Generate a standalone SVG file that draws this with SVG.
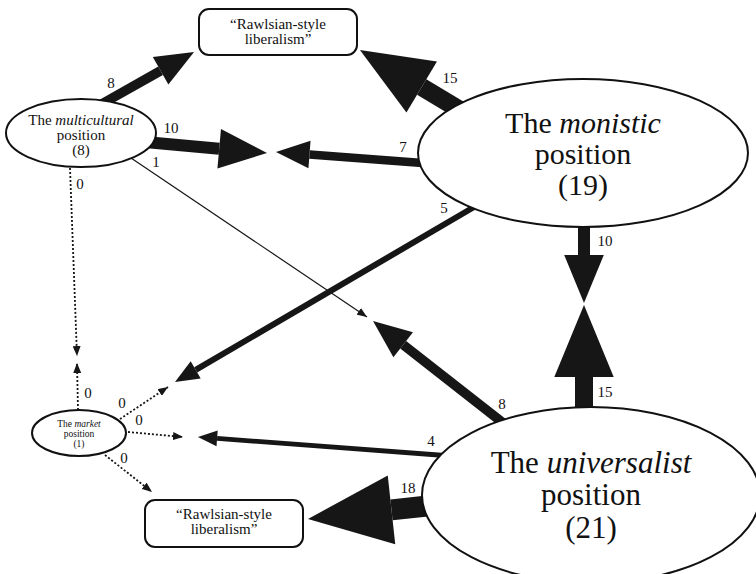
<svg xmlns="http://www.w3.org/2000/svg" width="756" height="574" viewBox="0 0 756 574">
<style>
text{fill:#111;text-anchor:middle}
.lbl{font-size:15px}
.node{fill:#fff;stroke:#111;stroke-width:2}
.flow{fill:none;stroke:#161616;marker-end:url(#head)}
.thin{fill:none;stroke:#161616;stroke-width:1.2;marker-end:url(#small)}
.dot{fill:none;stroke:#161616;stroke-width:1.8;stroke-dasharray:2 2;marker-end:url(#small)}
</style>
<defs>
<marker id="head" markerUnits="strokeWidth" markerWidth="4" markerHeight="3.3" viewBox="0 0 4 3.3" refX="0" refY="1.65" orient="auto" overflow="visible">
<path d="M0,0 L4,1.65 L0,3.3 Z" fill="#161616"/>
</marker>
<marker id="small" markerUnits="userSpaceOnUse" markerWidth="10" markerHeight="8" viewBox="0 0 10 8" refX="10" refY="4" orient="auto">
<path d="M0,0 L10,4 L0,8 Z" fill="#161616"/>
</marker>
</defs>
<rect width="756" height="574" fill="#fff"/>
<g id="connectors" font-family="Times New Roman, Liberation Serif, serif">
<path class="flow" d="M99.7,105.1 L160.6,70.8" stroke-width="9.6"/>
<path class="flow" d="M464.6,112.7 L421.7,87" stroke-width="18"/>
<path class="flow" d="M139.5,141.5 L219.2,148.7" stroke-width="12"/>
<path class="flow" d="M439.1,164.3 L309.5,154.5" stroke-width="8.4"/>
<path class="thin" d="M131,158 L367,317"/>
<path class="flow" d="M480,203.5 L195.7,369.9" stroke-width="6"/>
<path class="flow" d="M513.4,431.1 L403.2,344.7" stroke-width="9.6"/>
<path class="flow" d="M584,430 L584,377" stroke-width="18"/>
<path class="flow" d="M584,215 L584,255" stroke-width="12"/>
<path class="flow" d="M445,455.5 L217.1,438.4" stroke-width="4.8"/>
<path class="flow" d="M441.2,504.5 L391.5,509.9" stroke-width="21"/>
<path class="dot" d="M70,168 L77,356"/>
<path class="dot" d="M78,410 L77,363"/>
<path class="dot" d="M120,419 L168,387"/>
<path class="dot" d="M128,432 L183,437"/>
<path class="dot" d="M105,455 L152,492"/>
<text class="lbl" font-family="Times New Roman, Liberation Serif, serif" x="111" y="88">8</text>
<text class="lbl" font-family="Times New Roman, Liberation Serif, serif" x="450" y="83">15</text>
<text class="lbl" font-family="Times New Roman, Liberation Serif, serif" x="171" y="133">10</text>
<text class="lbl" font-family="Times New Roman, Liberation Serif, serif" x="403" y="152">7</text>
<text class="lbl" font-family="Times New Roman, Liberation Serif, serif" x="156" y="167">1</text>
<text class="lbl" font-family="Times New Roman, Liberation Serif, serif" x="444" y="213">5</text>
<text class="lbl" font-family="Times New Roman, Liberation Serif, serif" x="605" y="246">10</text>
<text class="lbl" font-family="Times New Roman, Liberation Serif, serif" x="605" y="397">15</text>
<text class="lbl" font-family="Times New Roman, Liberation Serif, serif" x="502" y="409">8</text>
<text class="lbl" font-family="Times New Roman, Liberation Serif, serif" x="431" y="446">4</text>
<text class="lbl" font-family="Times New Roman, Liberation Serif, serif" x="408" y="493">18</text>
<text class="lbl" font-family="Times New Roman, Liberation Serif, serif" x="80" y="189">0</text>
<text class="lbl" font-family="Times New Roman, Liberation Serif, serif" x="88" y="398">0</text>
<text class="lbl" font-family="Times New Roman, Liberation Serif, serif" x="122" y="408">0</text>
<text class="lbl" font-family="Times New Roman, Liberation Serif, serif" x="139" y="425">0</text>
<text class="lbl" font-family="Times New Roman, Liberation Serif, serif" x="124" y="463">0</text>
</g>
<g id="rawls-top" font-family="Times New Roman, Liberation Serif, serif">
<rect class="node" x="199" y="9" width="158" height="46" rx="10"/>
<text x="278" y="29" font-size="15">“Rawlsian-style</text>
<text x="278" y="44" font-size="15">liberalism”</text>
</g>
<g id="multicultural" font-family="Times New Roman, Liberation Serif, serif">
<ellipse class="node" cx="81" cy="133" rx="75" ry="34"/>
<text x="81" y="125" font-size="15">The <tspan font-style="italic">multicultural</tspan></text>
<text x="81" y="140" font-size="15">position</text>
<text x="81" y="155" font-size="15">(8)</text>
</g>
<g id="monistic" font-family="Times New Roman, Liberation Serif, serif">
<ellipse class="node" cx="583" cy="153" rx="165" ry="74"/>
<text x="583" y="133" font-size="30">The <tspan font-style="italic">monistic</tspan></text>
<text x="583" y="164" font-size="30">position</text>
<text x="583" y="195" font-size="30">(19)</text>
</g>
<g id="market" font-family="Times New Roman, Liberation Serif, serif">
<ellipse class="node" cx="79" cy="433" rx="47" ry="23"/>
<text x="79" y="427" font-size="9.5">The <tspan font-style="italic">market</tspan></text>
<text x="79" y="437" font-size="9.5">position</text>
<text x="79" y="447" font-size="9.5">(1)</text>
</g>
<g id="universalist" font-family="Times New Roman, Liberation Serif, serif">
<ellipse class="node" cx="591" cy="495" rx="169" ry="88"/>
<text x="591" y="473" font-size="31">The <tspan font-style="italic">universalist</tspan></text>
<text x="591" y="505" font-size="31">position</text>
<text x="591" y="538" font-size="31">(21)</text>
</g>
<g id="rawls-bottom" font-family="Times New Roman, Liberation Serif, serif">
<rect class="node" x="145" y="500" width="158" height="47" rx="10"/>
<text x="224" y="519" font-size="15">“Rawlsian-style</text>
<text x="224" y="534" font-size="15">liberalism”</text>
</g>
</svg>
